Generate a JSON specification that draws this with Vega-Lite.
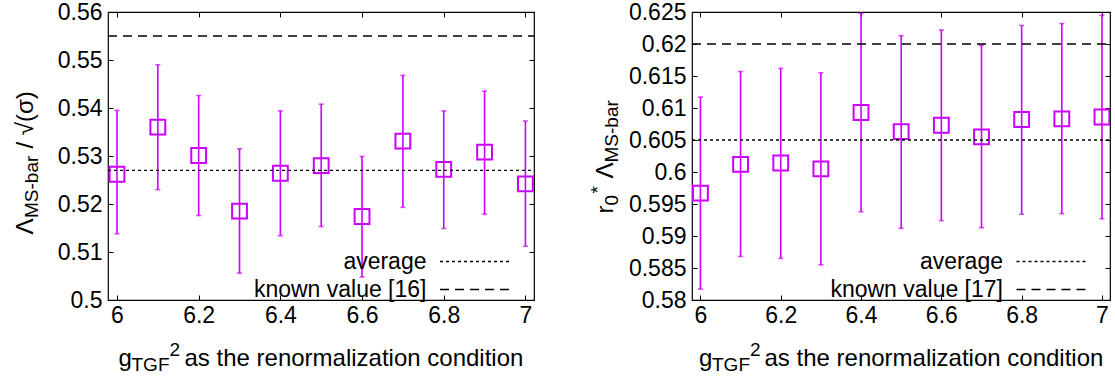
{
  "$schema": "https://vega.github.io/schema/vega-lite/v6.json",
  "padding": {"left": 12, "top": 0, "right": 0, "bottom": 0},
  "bounds": "flush",
  "spacing": 158,
  "resolve": {"scale": {"strokeDash": "independent"}, "legend": {"strokeDash": "independent"}},
  "datasets": {
    "L": [
      {"g": 6.0, "v": 0.5262, "lo": 0.5138, "hi": 0.5395},
      {"g": 6.1, "v": 0.5360, "lo": 0.5230, "hi": 0.5490},
      {"g": 6.2, "v": 0.5301, "lo": 0.5176, "hi": 0.5426},
      {"g": 6.3, "v": 0.5185, "lo": 0.5056, "hi": 0.5315},
      {"g": 6.4, "v": 0.5264, "lo": 0.5134, "hi": 0.5394},
      {"g": 6.5, "v": 0.5280, "lo": 0.5153, "hi": 0.5408},
      {"g": 6.6, "v": 0.5174, "lo": 0.5048, "hi": 0.5299},
      {"g": 6.7, "v": 0.5331, "lo": 0.5193, "hi": 0.5468},
      {"g": 6.8, "v": 0.5272, "lo": 0.5149, "hi": 0.5394},
      {"g": 6.9, "v": 0.5308, "lo": 0.5179, "hi": 0.5435},
      {"g": 7.0, "v": 0.5242, "lo": 0.5112, "hi": 0.5373}
    ],
    "R": [
      {"g": 6.0, "v": 0.5967, "lo": 0.5817, "hi": 0.6117},
      {"g": 6.1, "v": 0.6012, "lo": 0.5868, "hi": 0.6157},
      {"g": 6.2, "v": 0.6014, "lo": 0.5865, "hi": 0.6162},
      {"g": 6.3, "v": 0.6005, "lo": 0.5855, "hi": 0.6155},
      {"g": 6.4, "v": 0.6093, "lo": 0.5938, "hi": 0.6248},
      {"g": 6.5, "v": 0.6063, "lo": 0.5912, "hi": 0.6213},
      {"g": 6.6, "v": 0.6073, "lo": 0.5924, "hi": 0.6222},
      {"g": 6.7, "v": 0.6055, "lo": 0.5913, "hi": 0.6198},
      {"g": 6.8, "v": 0.6082, "lo": 0.5934, "hi": 0.6229},
      {"g": 6.9, "v": 0.6083, "lo": 0.5935, "hi": 0.6232},
      {"g": 7.0, "v": 0.6086, "lo": 0.5927, "hi": 0.6245}
    ],
    "LR": [
      {"name": "average", "v": 0.527},
      {"name": "known value [16]", "v": 0.555}
    ],
    "RR": [
      {"name": "average", "v": 0.605},
      {"name": "known value [17]", "v": 0.62}
    ]
  },
  "config": {
    "font": "Liberation Sans",
    "view": {"stroke": "black", "strokeWidth": 1.2},
    "axis": {
      "domain": false, "grid": false, "ticks": true, "tickSize": -5, "tickColor": "black", "tickWidth": 1,
      "labelFont": "Liberation Sans", "labelFontSize": 23, "labelColor": "black", "labelFlush": false, "labelOverlap": false,
      "titleFont": "Liberation Sans", "titleFontSize": 23, "titleFontWeight": "normal", "titleColor": "black",
      "titleAlign": "left", "titleBaseline": "alphabetic", "titlePadding": 0
    },
    "legend": {
      "orient": "none", "title": null, "symbolType": "M-4,0H4", "symbolSize": 324,
      "symbolStrokeWidth": 1.3, "symbolStrokeColor": "black", "symbolFillColor": "transparent",
      "labelFont": "Liberation Sans", "labelFontSize": 23, "labelColor": "black",
      "labelAlign": "right", "labelOffset": -61, "labelLimit": 400, "rowPadding": 4, "padding": 0, "offset": 0
    }
  },
  "hconcat": [
    {
      "width": 426, "height": 288,
      "layer": [
        {
          "data": {"name": "L"},
          "mark": {"type": "rule", "color": "#cc00ff", "strokeWidth": 1.6},
          "encoding": {
            "x": {"field": "g", "type": "quantitative", "scale": {"domain": [5.978, 7.021], "nice": false, "zero": false},
              "axis": {"orient": "bottom", "values": [6, 6.2, 6.4, 6.6, 6.8, 7], "format": "~f", "labelPadding": 9,
                "title": "g", "titleX": 10, "titleY": 65, "titleFontSize": 24, "titleAlign": "left", "titleBaseline": "alphabetic"}},
            "y": {"field": "lo", "type": "quantitative", "scale": {"domain": [0.5, 0.56], "nice": false, "zero": false},
              "axis": {"orient": "left", "values": [0.5, 0.51, 0.52, 0.53, 0.54, 0.55, 0.56], "format": "~f", "labelPadding": 11,
                "title": "Λ", "titleAngle": -90, "titleX": -76, "titleY": 222, "titleFontSize": 24, "titleAlign": "left", "titleBaseline": "alphabetic"}},
            "y2": {"field": "hi"}
          }
        },
        {
          "data": {"name": "L"},
          "mark": {"type": "tick", "orient": "horizontal", "color": "#cc00ff", "size": 5, "thickness": 1.6},
          "encoding": {
            "x": {"field": "g", "type": "quantitative",
              "axis": {"orient": "bottom", "ticks": false, "labels": false, "title": "TGF", "titleX": 23, "titleY": 70, "titleFontSize": 19, "titleAlign": "left", "titleBaseline": "alphabetic"}},
            "y": {"field": "lo", "type": "quantitative",
              "axis": {"orient": "left", "ticks": false, "labels": false, "title": "MS-bar", "titleAngle": -90, "titleX": -71, "titleY": 205.5, "titleFontSize": 19, "titleAlign": "left", "titleBaseline": "alphabetic"}}
          }
        },
        {
          "data": {"name": "L"},
          "mark": {"type": "tick", "orient": "horizontal", "color": "#cc00ff", "size": 5, "thickness": 1.6},
          "encoding": {
            "x": {"field": "g", "type": "quantitative",
              "axis": {"orient": "bottom", "ticks": false, "labels": false, "title": "2", "titleX": 61, "titleY": 55, "titleFontSize": 19, "titleAlign": "left", "titleBaseline": "alphabetic"}},
            "y": {"field": "hi", "type": "quantitative",
              "axis": {"orient": "left", "ticks": false, "labels": false, "title": "/ √(σ)", "titleAngle": -90, "titleX": -76, "titleY": 136, "titleFontSize": 24, "titleAlign": "left", "titleBaseline": "alphabetic"}}
          }
        },
        {
          "data": {"name": "L"},
          "mark": {"type": "point", "shape": "square", "filled": false, "size": 220, "strokeWidth": 2, "color": "#cc00ff", "opacity": 1, "clip": true},
          "encoding": {
            "x": {"field": "g", "type": "quantitative",
              "axis": {"orient": "bottom", "ticks": false, "labels": false, "title": "as the renormalization condition", "titleX": 76, "titleY": 65, "titleFontSize": 24, "titleAlign": "left", "titleBaseline": "alphabetic"}},
            "y": {"field": "v", "type": "quantitative",
              "axis": {"orient": "right", "labels": false, "title": null, "values": [0.5, 0.51, 0.52, 0.53, 0.54, 0.55, 0.56]}}
          }
        },
        {
          "data": {"name": "LR"},
          "transform": [{"filter": "datum.name === 'average'"}],
          "mark": {"type": "rule", "color": "black", "strokeWidth": 1.3},
          "encoding": {
            "x": {"datum": 5.978, "type": "quantitative",
              "axis": {"orient": "top", "labels": false, "title": null, "values": [6, 6.2, 6.4, 6.6, 6.8, 7]}},
            "x2": {"datum": 7.021},
            "y": {"field": "v", "type": "quantitative", "axis": null},
            "strokeDash": {"field": "name", "type": "nominal",
              "scale": {"domain": ["average", "known value [16]"], "range": [[3, 3], [9, 6]]},
              "legend": {"orient": "none", "legendX": 356.5, "legendY": 238}}
          }
        },
        {
          "data": {"name": "LR"},
          "transform": [{"filter": "datum.name !== 'average'"}],
          "mark": {"type": "rule", "color": "black", "strokeWidth": 1.3},
          "encoding": {
            "x": {"datum": 5.978, "type": "quantitative", "axis": null},
            "x2": {"datum": 7.021},
            "y": {"field": "v", "type": "quantitative", "axis": null},
            "strokeDash": {"field": "name", "type": "nominal",
              "scale": {"domain": ["average", "known value [16]"], "range": [[3, 3], [9, 6]]},
              "legend": {"orient": "none", "legendX": 356.5, "legendY": 238}}
          }
        }
      ],
      "resolve": {"axis": {"x": "independent", "y": "independent"}}
    },
    {
      "width": 418, "height": 288,
      "layer": [
        {
          "data": {"name": "R"},
          "mark": {"type": "rule", "color": "#cc00ff", "strokeWidth": 1.6},
          "encoding": {
            "x": {"field": "g", "type": "quantitative", "scale": {"domain": [5.979, 7.02], "nice": false, "zero": false},
              "axis": {"orient": "bottom", "values": [6, 6.2, 6.4, 6.6, 6.8, 7], "format": "~f", "labelPadding": 9,
                "title": "g", "titleX": 6.5, "titleY": 65, "titleFontSize": 24, "titleAlign": "left", "titleBaseline": "alphabetic"}},
            "y": {"field": "lo", "type": "quantitative", "scale": {"domain": [0.58, 0.625], "nice": false, "zero": false},
              "axis": {"orient": "left", "values": [0.58, 0.585, 0.59, 0.595, 0.6, 0.605, 0.61, 0.615, 0.62, 0.625], "format": "~f", "labelPadding": 11,
                "title": "r", "titleAngle": -90, "titleX": -80, "titleY": 201, "titleFontSize": 24, "titleAlign": "left", "titleBaseline": "alphabetic"}},
            "y2": {"field": "hi"}
          }
        },
        {
          "data": {"name": "R"},
          "mark": {"type": "tick", "orient": "horizontal", "color": "#cc00ff", "size": 5, "thickness": 1.6},
          "encoding": {
            "x": {"field": "g", "type": "quantitative",
              "axis": {"orient": "bottom", "ticks": false, "labels": false, "title": "TGF", "titleX": 19.5, "titleY": 70, "titleFontSize": 19, "titleAlign": "left", "titleBaseline": "alphabetic"}},
            "y": {"field": "lo", "type": "quantitative",
              "axis": {"orient": "left", "ticks": false, "labels": false, "title": "0", "titleAngle": -90, "titleX": -75, "titleY": 193, "titleFontSize": 19, "titleAlign": "left", "titleBaseline": "alphabetic"}}
          }
        },
        {
          "data": {"name": "R"},
          "mark": {"type": "tick", "orient": "horizontal", "color": "#cc00ff", "size": 5, "thickness": 1.6},
          "encoding": {
            "x": {"field": "g", "type": "quantitative",
              "axis": {"orient": "bottom", "ticks": false, "labels": false, "title": "2", "titleX": 57.5, "titleY": 55, "titleFontSize": 19, "titleAlign": "left", "titleBaseline": "alphabetic"}},
            "y": {"field": "hi", "type": "quantitative",
              "axis": {"orient": "left", "ticks": false, "labels": false, "title": "*", "titleAngle": -90, "titleX": -89, "titleY": 181, "titleFontSize": 19, "titleAlign": "left", "titleBaseline": "alphabetic"}}
          }
        },
        {
          "data": {"name": "R"},
          "mark": {"type": "point", "shape": "square", "filled": false, "size": 220, "strokeWidth": 2, "color": "#cc00ff", "opacity": 1, "clip": true},
          "encoding": {
            "x": {"field": "g", "type": "quantitative",
              "axis": {"orient": "bottom", "ticks": false, "labels": false, "title": "as the renormalization condition", "titleX": 72, "titleY": 65, "titleFontSize": 24, "titleAlign": "left", "titleBaseline": "alphabetic"}},
            "y": {"field": "v", "type": "quantitative",
              "axis": {"orient": "left", "ticks": false, "labels": false, "title": "Λ", "titleAngle": -90, "titleX": -80, "titleY": 166, "titleFontSize": 24, "titleAlign": "left", "titleBaseline": "alphabetic"}}
          }
        },
        {
          "data": {"name": "RR"},
          "transform": [{"filter": "datum.name === 'average'"}],
          "mark": {"type": "rule", "color": "black", "strokeWidth": 1.3},
          "encoding": {
            "x": {"datum": 5.979, "type": "quantitative",
              "axis": {"orient": "top", "labels": false, "title": null, "values": [6, 6.2, 6.4, 6.6, 6.8, 7]}},
            "x2": {"datum": 7.02},
            "y": {"field": "v", "type": "quantitative",
              "axis": {"orient": "left", "ticks": false, "labels": false, "title": "MS-bar", "titleAngle": -90, "titleX": -75, "titleY": 150, "titleFontSize": 19, "titleAlign": "left", "titleBaseline": "alphabetic"}},
            "strokeDash": {"field": "name", "type": "nominal",
              "scale": {"domain": ["average", "known value [17]"], "range": [[3, 3], [9, 6]]},
              "legend": {"orient": "none", "legendX": 349, "legendY": 238}}
          }
        },
        {
          "data": {"name": "RR"},
          "transform": [{"filter": "datum.name !== 'average'"}],
          "mark": {"type": "rule", "color": "black", "strokeWidth": 1.3},
          "encoding": {
            "x": {"datum": 5.979, "type": "quantitative", "axis": null},
            "x2": {"datum": 7.02},
            "y": {"field": "v", "type": "quantitative",
              "axis": {"orient": "right", "labels": false, "title": null, "values": [0.58, 0.585, 0.59, 0.595, 0.6, 0.605, 0.61, 0.615, 0.62, 0.625]}},
            "strokeDash": {"field": "name", "type": "nominal",
              "scale": {"domain": ["average", "known value [17]"], "range": [[3, 3], [9, 6]]},
              "legend": {"orient": "none", "legendX": 349, "legendY": 238}}
          }
        }
      ],
      "resolve": {"axis": {"x": "independent", "y": "independent"}}
    }
  ]
}
